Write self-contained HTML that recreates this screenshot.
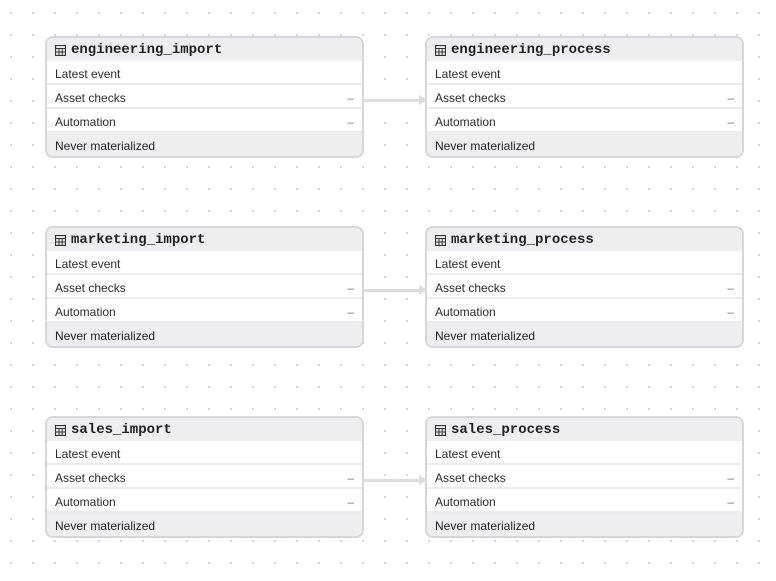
<!DOCTYPE html>
<html><head><style>
body{margin:0;width:776px;height:581px;overflow:hidden;background:#fff;
background-image:radial-gradient(circle,#d4d4d8 1px,transparent 1.3px);background-size:22px 22px;background-position:0px 2px;position:relative;font-family:"Liberation Sans",sans-serif}
.n{position:absolute;width:315px;border:2px solid #d6d6db;border-radius:8px;overflow:hidden;background:#fff}
.h{height:23px;background:#eeeef0;font-family:"Liberation Mono",monospace;font-weight:bold;font-size:14px;color:#1f1f24;line-height:24px;padding-left:8px;padding-top:1px;box-sizing:border-box;display:flex;align-items:center}
.h svg{margin-right:5px}
.r{height:22px;border-bottom:2px solid #ececef;font-size:12px;color:#2a2a30;line-height:26px;padding:0 8px;display:flex;justify-content:space-between}
.r span+span{color:#777;font-weight:normal}
.f{height:23px;background:#eeeef0;font-size:12px;color:#1f1f24;line-height:27px;padding-left:8px}
.a{position:absolute;height:3px;background:#dcdce1;width:56px}
.a:after{content:"";position:absolute;right:-7px;top:-4px;border-left:8px solid #dcdce1;border-top:5.5px solid transparent;border-bottom:5.5px solid transparent}
</style></head><body>
<svg width="0" height="0" style="position:absolute"><defs><g id="t"><rect x="0.5" y="0.5" width="10" height="10" fill="none" stroke="#333" stroke-width="1.2"/><line x1="0.5" y1="3.5" x2="10.5" y2="3.5" stroke="#333"/><line x1="0.5" y1="7" x2="10.5" y2="7" stroke="#333"/><line x1="4" y1="3.5" x2="4" y2="10.5" stroke="#333"/><line x1="7.2" y1="3.5" x2="7.2" y2="10.5" stroke="#333"/></g></defs></svg>

<div class="n" style="left:45px;top:36px"><div class="h"><svg width="11" height="11"><use href="#t"/></svg>engineering_import</div><div class="r"><span>Latest event</span></div><div class="r"><span>Asset checks</span><span>–</span></div><div class="r"><span>Automation</span><span>–</span></div><div class="f">Never materialized</div></div>
<div class="n" style="left:425px;top:36px"><div class="h"><svg width="11" height="11"><use href="#t"/></svg>engineering_process</div><div class="r"><span>Latest event</span></div><div class="r"><span>Asset checks</span><span>–</span></div><div class="r"><span>Automation</span><span>–</span></div><div class="f">Never materialized</div></div>
<div class="a" style="left:364px;top:99px"></div>

<div class="n" style="left:45px;top:226px"><div class="h"><svg width="11" height="11"><use href="#t"/></svg>marketing_import</div><div class="r"><span>Latest event</span></div><div class="r"><span>Asset checks</span><span>–</span></div><div class="r"><span>Automation</span><span>–</span></div><div class="f">Never materialized</div></div>
<div class="n" style="left:425px;top:226px"><div class="h"><svg width="11" height="11"><use href="#t"/></svg>marketing_process</div><div class="r"><span>Latest event</span></div><div class="r"><span>Asset checks</span><span>–</span></div><div class="r"><span>Automation</span><span>–</span></div><div class="f">Never materialized</div></div>
<div class="a" style="left:364px;top:289px"></div>

<div class="n" style="left:45px;top:416px"><div class="h"><svg width="11" height="11"><use href="#t"/></svg>sales_import</div><div class="r"><span>Latest event</span></div><div class="r"><span>Asset checks</span><span>–</span></div><div class="r"><span>Automation</span><span>–</span></div><div class="f">Never materialized</div></div>
<div class="n" style="left:425px;top:416px"><div class="h"><svg width="11" height="11"><use href="#t"/></svg>sales_process</div><div class="r"><span>Latest event</span></div><div class="r"><span>Asset checks</span><span>–</span></div><div class="r"><span>Automation</span><span>–</span></div><div class="f">Never materialized</div></div>
<div class="a" style="left:364px;top:479px"></div>
</body></html>
